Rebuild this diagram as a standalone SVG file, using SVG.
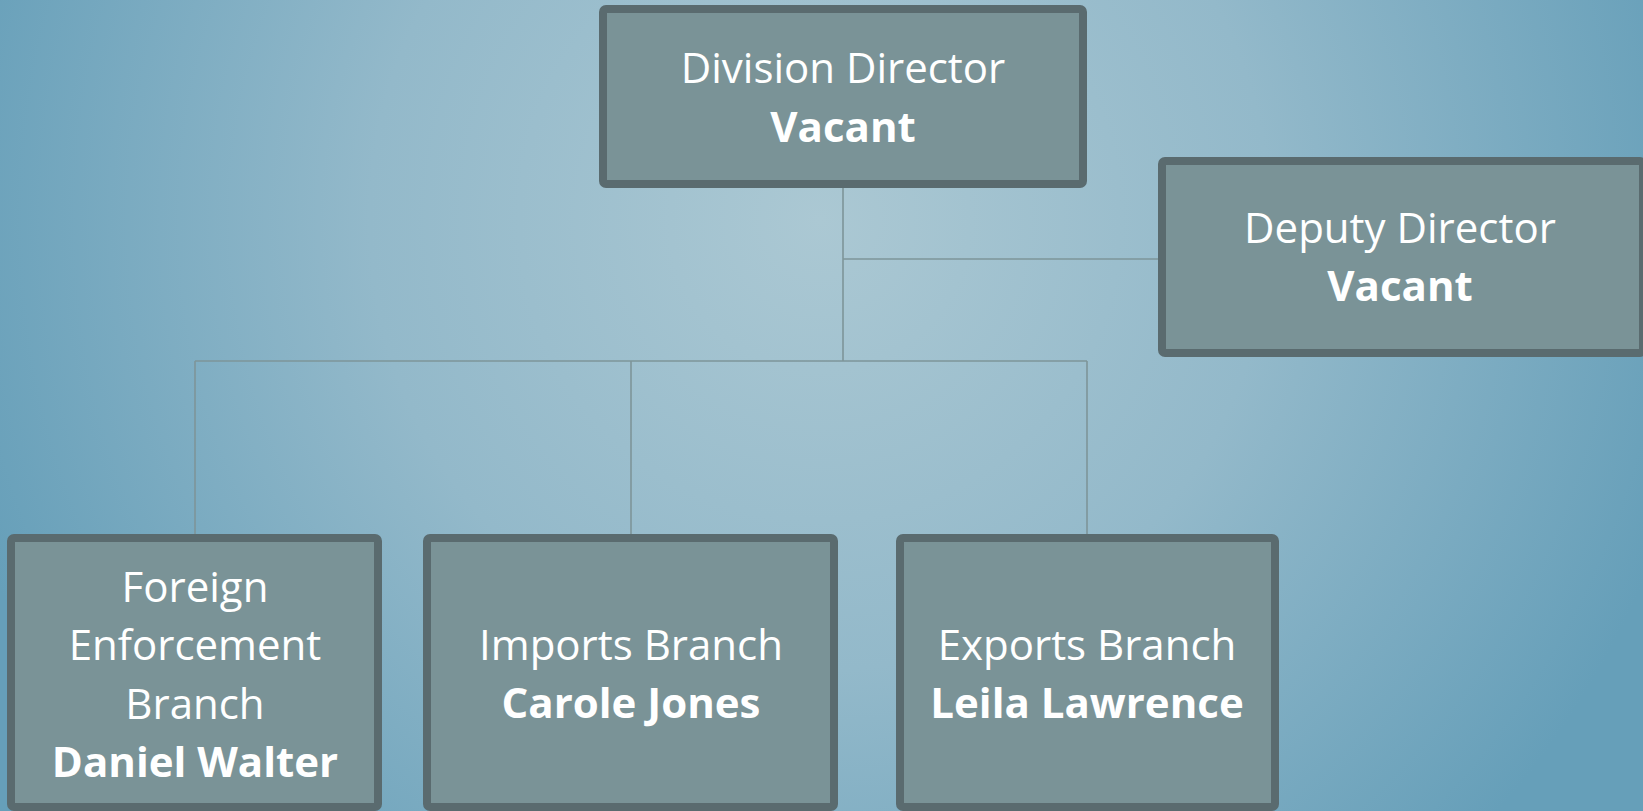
<svg xmlns="http://www.w3.org/2000/svg" width="1643" height="811" viewBox="0 0 1643 811">
<defs>
<radialGradient id="bg" cx="820" cy="220" r="900" gradientUnits="userSpaceOnUse">
<stop offset="0" stop-color="#abc8d3"/>
<stop offset="0.5" stop-color="#93b9ca"/>
<stop offset="1" stop-color="#669fb9"/>
</radialGradient>
<style>
.box{fill:#7a9397;stroke:#5a6b6f;stroke-width:8}
.t{font-family:"Open Sans","Liberation Sans",sans-serif;font-size:42px;fill:#ffffff;text-anchor:middle}
.b{font-weight:bold}
.c{stroke:#7e9599;stroke-width:1.6;fill:none}
</style>
</defs>
<rect width="1643" height="811" fill="url(#bg)"/>
<g id="connectors">
<path class="c" d="M843 188V361M843 259H1158M195 361H1087M195 361V534M631 361V534M1087 361V534"/>
</g>
<g id="division-director">
<rect class="box" x="603" y="9" width="480" height="175" rx="3"/>
<text class="t" x="843" y="83">Division Director</text>
<text class="t b" x="843" y="142">Vacant</text>
</g>
<g id="deputy-director">
<rect class="box" x="1162" y="161" width="481" height="192" rx="3"/>
<text class="t" x="1400" y="243">Deputy Director</text>
<text class="t b" x="1400" y="301">Vacant</text>
</g>
<g id="foreign-enforcement">
<rect class="box" x="11" y="538" width="367" height="269" rx="3"/>
<text class="t" x="195" y="602">Foreign</text>
<text class="t" x="195" y="660">Enforcement</text>
<text class="t" x="195" y="719">Branch</text>
<text class="t b" x="195" y="777">Daniel Walter</text>
</g>
<g id="imports-branch">
<rect class="box" x="427" y="538" width="407" height="269" rx="3"/>
<text class="t" x="631" y="660">Imports Branch</text>
<text class="t b" x="631" y="718">Carole Jones</text>
</g>
<g id="exports-branch">
<rect class="box" x="900" y="538" width="375" height="269" rx="3"/>
<text class="t" x="1087" y="660">Exports Branch</text>
<text class="t b" x="1087" y="718">Leila Lawrence</text>
</g>
</svg>
